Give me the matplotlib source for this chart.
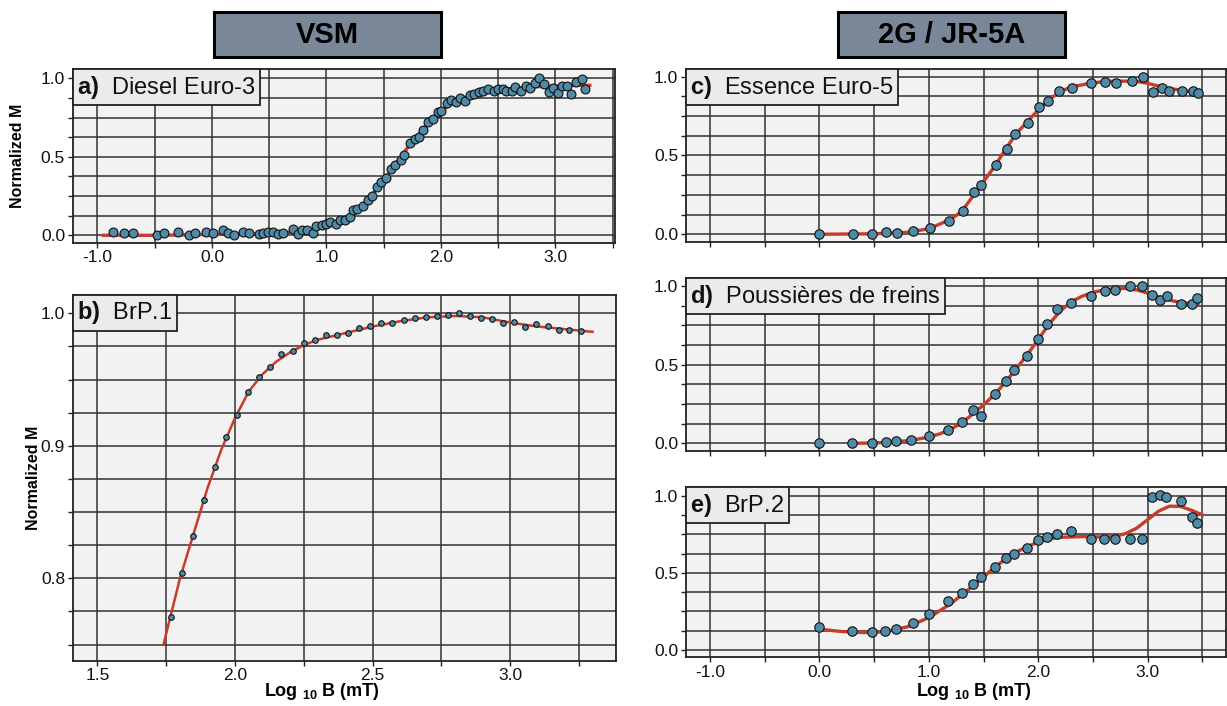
import numpy as np
import matplotlib
matplotlib.use('Agg')
import matplotlib.pyplot as plt
from matplotlib.patches import Rectangle

plt.rcParams['font.family'] = ['Liberation Sans', 'DejaVu Sans']
plt.rcParams['mathtext.fontset'] = 'custom'
plt.rcParams['mathtext.rm'] = 'Liberation Sans'
plt.rcParams['mathtext.bf'] = 'Liberation Sans:bold'
plt.rcParams['axes.unicode_minus'] = False

# ---------------- data ----------------
# a) Diesel Euro-3 (VSM)
a_x = [-0.86, -0.77, -0.69, -0.48, -0.42, -0.30, -0.20, -0.15, -0.05, 0.01, 0.10, 0.14,
       0.19, 0.27, 0.32, 0.41, 0.45, 0.49, 0.53, 0.58, 0.62, 0.71, 0.75, 0.79, 0.83, 0.88,
       0.91, 0.96, 1.00, 1.03, 1.08, 1.12, 1.16, 1.21, 1.23, 1.27, 1.32, 1.36, 1.40, 1.44,
       1.48, 1.52, 1.56, 1.60, 1.65, 1.68, 1.73, 1.77, 1.81, 1.84, 1.89, 1.93, 1.97, 2.00,
       2.05, 2.09, 2.13, 2.17, 2.21, 2.25, 2.29, 2.33, 2.37, 2.41, 2.46, 2.50, 2.54, 2.57,
       2.62, 2.65, 2.70, 2.74, 2.78, 2.82, 2.86, 2.90, 2.94, 2.98, 3.02, 3.06, 3.10, 3.14,
       3.18, 3.23, 3.26]
a_y = [0.021, 0.017, 0.013, 0.002, 0.015, 0.019, 0.000, 0.013, 0.021, 0.013, 0.032, 0.013,
       0.000, 0.021, 0.015, 0.008, 0.017, 0.023, 0.021, 0.008, 0.013, 0.040, 0.006, 0.034,
       0.034, 0.017, 0.059, 0.068, 0.070, 0.087, 0.074, 0.098, 0.100, 0.119, 0.161, 0.170,
       0.187, 0.225, 0.250, 0.310, 0.340, 0.365, 0.425, 0.448, 0.480, 0.510, 0.590, 0.611,
       0.624, 0.671, 0.722, 0.739, 0.788, 0.792, 0.841, 0.862, 0.847, 0.873, 0.856, 0.894,
       0.898, 0.913, 0.921, 0.932, 0.917, 0.932, 0.932, 0.917, 0.921, 0.947, 0.921, 0.951,
       0.936, 0.968, 1.004, 0.962, 0.911, 0.936, 0.904, 0.951, 0.953, 0.900, 0.974, 0.994,
       0.932]
a_fit_x = [-0.95, -0.5, 0.0, 0.5, 0.8, 1.0, 1.1, 1.2, 1.3, 1.4, 1.5, 1.6, 1.7, 1.8, 1.9,
           2.0, 2.1, 2.2, 2.3, 2.4, 2.6, 2.8, 3.0, 3.2, 3.3]
a_fit_y = [0.0, 0.0, 0.005, 0.01, 0.025, 0.055, 0.08, 0.12, 0.18, 0.26, 0.35, 0.45, 0.55,
           0.64, 0.72, 0.79, 0.84, 0.875, 0.90, 0.915, 0.93, 0.945, 0.95, 0.955, 0.955]

# b) BrP.1 (VSM)
b_x = [1.766, 1.806, 1.847, 1.886, 1.926, 1.967, 2.007, 2.048, 2.088, 2.129, 2.169, 2.210,
       2.250, 2.290, 2.331, 2.370, 2.410, 2.451, 2.491, 2.532, 2.572, 2.613, 2.653, 2.694,
       2.734, 2.775, 2.814, 2.854, 2.895, 2.935, 2.975, 3.014, 3.055, 3.095, 3.136, 3.176,
       3.215, 3.256]
b_y = [0.7706, 0.8040, 0.8322, 0.8594, 0.8843, 0.9067, 0.9235, 0.9406, 0.9517, 0.9597,
       0.9690, 0.9718, 0.9774, 0.9799, 0.9834, 0.9836, 0.9854, 0.9892, 0.9907, 0.9925,
       0.9925, 0.9950, 0.9962, 0.9975, 0.9980, 0.9985, 1.0000, 0.9980, 0.9965, 0.9960,
       0.9925, 0.9935, 0.9897, 0.9917, 0.9904, 0.9874, 0.9877, 0.9869]
b_fit_x = [1.74, 1.80, 1.85, 1.90, 1.95, 2.00, 2.05, 2.10, 2.15, 2.20, 2.25, 2.30, 2.40,
           2.50, 2.60, 2.70, 2.80, 2.90, 3.00, 3.10, 3.20, 3.30]
b_fit_y = [0.750, 0.800, 0.834, 0.868, 0.897, 0.921, 0.941, 0.954, 0.9635, 0.9705, 0.976,
           0.980, 0.985, 0.990, 0.994, 0.997, 0.998, 0.997, 0.993, 0.990, 0.988, 0.986]

# c) Essence Euro-5 (2G)
c_x = [0.00, 0.31, 0.48, 0.61, 0.71, 0.85, 1.01, 1.18, 1.31, 1.41, 1.48, 1.61, 1.71, 1.79,
       1.91, 2.01, 2.09, 2.19, 2.31, 2.48, 2.61, 2.71, 2.86, 2.96, 3.05, 3.13, 3.19, 3.31,
       3.41, 3.46]
c_y = [0.000, 0.002, 0.004, 0.015, 0.011, 0.021, 0.042, 0.087, 0.148, 0.268, 0.311, 0.438,
       0.543, 0.636, 0.704, 0.805, 0.846, 0.909, 0.930, 0.960, 0.964, 0.962, 0.973, 0.996,
       0.905, 0.930, 0.911, 0.911, 0.911, 0.896]
c_fit_x = [0.0, 0.5, 0.8, 1.0, 1.2, 1.3, 1.4, 1.5, 1.6, 1.7, 1.8, 1.9, 2.0, 2.1, 2.2, 2.3,
           2.5, 2.7, 2.9, 3.0, 3.1, 3.2, 3.3, 3.46]
c_fit_y = [0.0, 0.003, 0.012, 0.035, 0.095, 0.145, 0.24, 0.335, 0.43, 0.54, 0.64, 0.715,
           0.79, 0.856, 0.905, 0.935, 0.962, 0.973, 0.97, 0.958, 0.94, 0.925, 0.915, 0.90]

# d) Poussières de freins (2G)
d_x = [0.00, 0.30, 0.48, 0.61, 0.70, 0.84, 1.00, 1.17, 1.30, 1.40, 1.48, 1.60, 1.70, 1.78,
       1.90, 2.00, 2.08, 2.17, 2.30, 2.48, 2.61, 2.70, 2.84, 2.95, 3.04, 3.11, 3.18, 3.30,
       3.40, 3.45]
d_y = [0.002, 0.002, 0.004, 0.008, 0.013, 0.023, 0.047, 0.087, 0.133, 0.212, 0.176, 0.314,
       0.398, 0.464, 0.557, 0.665, 0.761, 0.856, 0.892, 0.934, 0.966, 0.975, 1.000, 1.000,
       0.941, 0.911, 0.934, 0.886, 0.888, 0.924]
d_fit_x = [0.3, 0.5, 0.7, 0.85, 1.0, 1.1, 1.2, 1.3, 1.4, 1.5, 1.6, 1.7, 1.8, 1.9, 2.0, 2.1,
           2.2, 2.3, 2.4, 2.5, 2.6, 2.7, 2.8, 2.9, 3.0, 3.1, 3.2, 3.3, 3.46]
d_fit_y = [0.0, 0.002, 0.01, 0.02, 0.04, 0.06, 0.09, 0.13, 0.185, 0.245, 0.31, 0.39, 0.475,
           0.565, 0.66, 0.76, 0.84, 0.90, 0.935, 0.96, 0.975, 0.983, 0.985, 0.975, 0.955,
           0.93, 0.91, 0.895, 0.885]

# e) BrP.2 (2G)
e_x = [0.00, 0.30, 0.48, 0.60, 0.70, 0.85, 1.00, 1.17, 1.30, 1.40, 1.48, 1.60, 1.70, 1.78,
       1.90, 2.00, 2.08, 2.17, 2.30, 2.48, 2.60, 2.70, 2.84, 2.95, 3.04, 3.11, 3.17, 3.30,
       3.40, 3.45]
e_y = [0.147, 0.121, 0.114, 0.121, 0.134, 0.177, 0.231, 0.315, 0.371, 0.428, 0.471, 0.540,
       0.596, 0.622, 0.659, 0.713, 0.732, 0.752, 0.769, 0.717, 0.721, 0.717, 0.717, 0.717,
       0.989, 1.004, 0.989, 0.963, 0.860, 0.825]
e_fit_x = [0.0, 0.2, 0.4, 0.6, 0.8, 1.0, 1.2, 1.4, 1.5, 1.6, 1.7, 1.8, 1.9, 2.0, 2.1, 2.2,
           2.4, 2.6, 2.7, 2.8, 2.9, 3.0, 3.1, 3.2, 3.3, 3.4, 3.5]
e_fit_y = [0.135, 0.12, 0.113, 0.118, 0.15, 0.21, 0.30, 0.415, 0.475, 0.535, 0.59, 0.635,
           0.67, 0.70, 0.72, 0.73, 0.735, 0.732, 0.735, 0.755, 0.79, 0.845, 0.90, 0.932,
           0.93, 0.905, 0.875]

# ---------------- style ----------------
BG = '#f2f2f2'
GRID = '#333333'
DOT = '#4f8aa6'
RED = '#c63d2b'
W, H = 1227, 706


def px_axes(fig, left, top, right, bottom):
    # axes placed from pixel edges of the reference
    return fig.add_axes([left / W, 1 - bottom / H, (right - left) / W, (bottom - top) / H])


def style(ax, xlim, ylim, xmaj, xmin, ymaj, ymin, xlabels=True):
    ax.set_facecolor(BG)
    ax.set_xlim(*xlim)
    ax.set_ylim(*ylim)
    ax.set_xticks(xmaj)
    ax.set_xticks(xmin, minor=True)
    ax.set_yticks(ymaj)
    ax.set_yticks(ymin, minor=True)
    ax.set_xticklabels(['%.1f' % v for v in xmaj] if xlabels else [])
    ax.set_yticklabels(['%.1f' % v for v in ymaj])
    ax.grid(True, which='both', color=GRID, lw=1.1, zorder=0)
    ax.set_axisbelow(True)
    ax.tick_params(which='both', direction='out', length=3.5, width=1, color='#222222',
                   labelsize=12.5, labelcolor='#111111', pad=2)
    for s in ax.spines.values():
        s.set_color('#222222')
        s.set_linewidth(1.3)


def tag(ax, letter, name):
    ax.annotate(r'$\mathbf{' + letter + ')}$  ' + name, xy=(0, 1), xycoords='axes fraction',
                xytext=(3.2, -3.2), textcoords='offset points', ha='left', va='top',
                fontsize=17, color='#111111', zorder=10,
                bbox=dict(boxstyle='square,pad=0.18', fc='#ebebeb', ec='#222222', lw=1.3))


fig = plt.figure(figsize=(W / 100, H / 100), dpi=100)

quart = [0.125, 0.25, 0.375, 0.625, 0.75, 0.875]
xwide = [-1.0, 0.0, 1.0, 2.0, 3.0]
xwide_min = [-0.5, 0.5, 1.5, 2.5, 3.5]

# a
ax_a = px_axes(fig, 72.7, 69.3, 615, 242.7)
style(ax_a, (-1.216, 3.52), (-0.047, 1.057), xwide, xwide_min, [0.0, 0.5, 1.0], quart)
ax_a.plot(a_fit_x, a_fit_y, color=RED, lw=2.4, zorder=3)
ax_a.plot(a_x, a_y, 'o', ms=6.4, mfc=DOT, mec='#111111', mew=0.8, zorder=4)
tag(ax_a, 'a', 'Diesel Euro-3')

# b
ax_b = px_axes(fig, 72.7, 295, 616, 660.7)
style(ax_b, (1.41, 3.385), (0.7378, 1.0138), [1.5, 2.0, 2.5, 3.0], [1.75, 2.25, 2.75, 3.25],
      [0.8, 0.9, 1.0], [0.75, 0.775, 0.825, 0.85, 0.875, 0.925, 0.95, 0.975])
ax_b.plot(b_fit_x, b_fit_y, color=RED, lw=1.8, zorder=3)
ax_b.plot(b_x, b_y, 'o', ms=4.0, mfc=DOT, mec='#111111', mew=0.8, zorder=4)
tag(ax_b, 'b', 'BrP.1')

# c, d, e
xl_r = (-1.22, 3.715)
ax_c = px_axes(fig, 686, 69.3, 1226, 242.3)
style(ax_c, xl_r, (-0.051, 1.047), xwide, xwide_min, [0.0, 0.5, 1.0], quart, xlabels=False)
ax_c.plot(c_fit_x, c_fit_y, color=RED, lw=2.4, zorder=3)
ax_c.plot(c_x, c_y, 'o', ms=6.8, mfc=DOT, mec='#111111', mew=0.8, zorder=4)
tag(ax_c, 'c', 'Essence Euro-5')

ax_d = px_axes(fig, 686, 278.3, 1226, 451)
style(ax_d, xl_r, (-0.049, 1.049), xwide, xwide_min, [0.0, 0.5, 1.0], quart, xlabels=False)
ax_d.plot(d_fit_x, d_fit_y, color=RED, lw=2.4, zorder=3)
ax_d.plot(d_x, d_y, 'o', ms=6.8, mfc=DOT, mec='#111111', mew=0.8, zorder=4)
tag(ax_d, 'd', 'Poussières de freins')

ax_e = px_axes(fig, 686, 487.3, 1226, 657.3)
style(ax_e, xl_r, (-0.047, 1.054), xwide, xwide_min, [0.0, 0.5, 1.0], quart)
ax_e.plot(e_fit_x, e_fit_y, color=RED, lw=2.4, zorder=3)
ax_e.plot(e_x, e_y, 'o', ms=6.8, mfc=DOT, mec='#111111', mew=0.8, zorder=4)
tag(ax_e, 'e', 'BrP.2')

# axis titles
fig.text(18 / W, 1 - 156 / H, 'Normalized M', rotation=90, ha='center', va='center',
         fontsize=11.5, fontweight='bold')
fig.text(33 / W, 1 - 478 / H, 'Normalized M', rotation=90, ha='center', va='center',
         fontsize=11.5, fontweight='bold')
xlab = r'Log $_{\mathbf{10}}$ B (mT)'
fig.text(322 / W, 1 - 692 / H, xlab, ha='center', va='center', fontsize=13, fontweight='bold')
fig.text(974 / W, 1 - 692 / H, xlab, ha='center', va='center', fontsize=13, fontweight='bold')

# instrument headers
for x0, x1, name in [(213.5, 441, 'VSM'), (838, 1065, '2G / JR-5A')]:
    fig.add_artist(Rectangle((x0 / W, 1 - 56.7 / H), (x1 - x0) / W, 44.4 / H,
                             transform=fig.transFigure, fc='#7a8799', ec='black', lw=2.2))
    fig.text((x0 + x1) / 2 / W, 1 - 35 / H, name, ha='center', va='center',
             fontsize=21, fontweight='bold', color='black')

fig.savefig('out.png', dpi=100)
